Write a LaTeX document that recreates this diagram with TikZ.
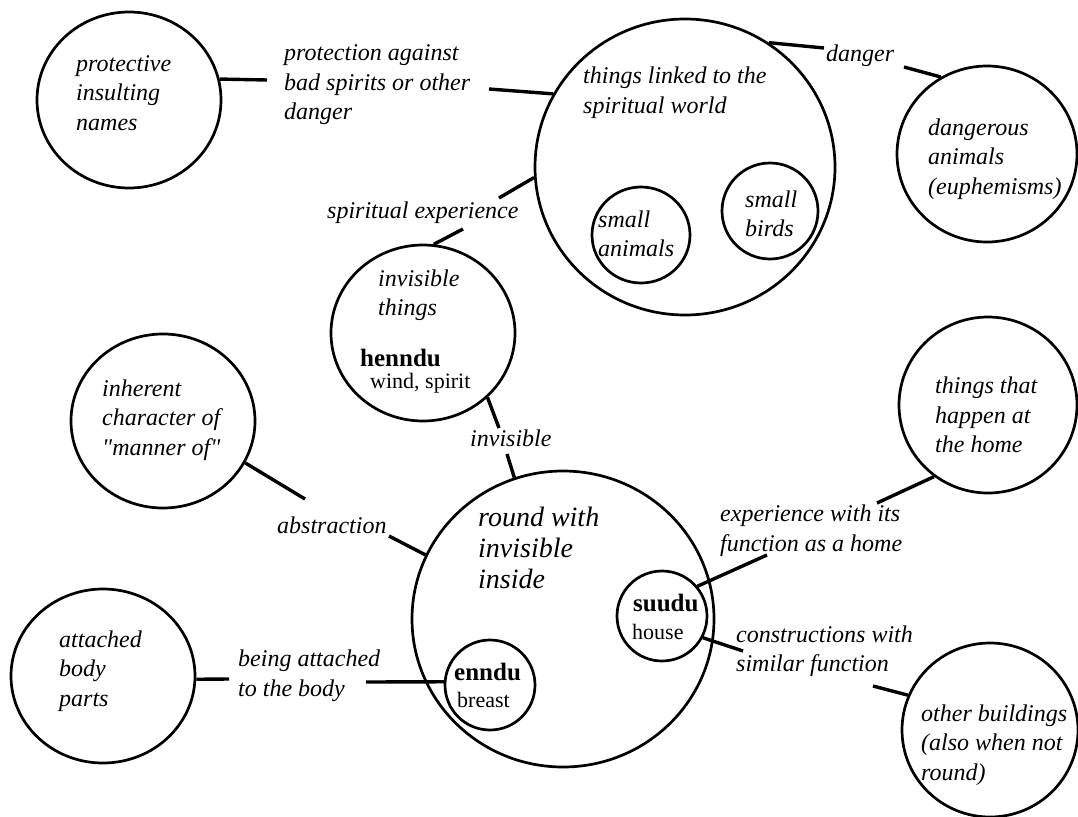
\documentclass[tikz,border=0pt]{standalone}
\usepackage{fontspec}
\setmainfont{Liberation Serif}[ItalicFont={Liberation Serif Italic},BoldFont={Liberation Serif Bold}]
% family without TeX ligature mapping, for straight double quotes
\newfontfamily\plainq{Liberation Serif}[ItalicFont={Liberation Serif Italic}]
\newcommand{\sq}{{\plainq\itshape "}}
\usetikzlibrary{shapes.geometric}
\begin{document}
\begin{tikzpicture}[x=1pt,y=-1pt,
  ring/.style={draw, ellipse, line width=2.7pt, inner sep=0pt},
  link/.style={line width=3.4pt},
  lbl/.style={anchor=west, inner sep=0pt, align=left,
    font=\fontsize{24}{29.5}\selectfont\itshape},
  bigl/.style={anchor=west, inner sep=0pt, align=left,
    font=\fontsize{28}{31}\selectfont\itshape},
  word/.style={anchor=west, inner sep=0pt, font=\fontsize{25}{30}\selectfont\bfseries},
  gloss/.style={anchor=west, inner sep=0pt, font=\fontsize{22}{26}\selectfont}
]
\useasboundingbox[fill=white] (0,0) rectangle (1078,816);

% circles
\node[ring, minimum width=184pt, minimum height=176pt] (prot)   at (129,100) {};
\node[ring, minimum width=300pt, minimum height=296pt] (spirit) at (685,167) {};
\node[ring, minimum width=98pt,  minimum height=96pt]  (sanim)  at (641,235) {};
\node[ring, minimum width=96pt,  minimum height=96pt]  (sbird)  at (770,211) {};
\node[ring, minimum width=180pt, minimum height=176pt] (dang)   at (987,154) {};
\node[ring, minimum width=184pt, minimum height=176pt] (henn)   at (423,333) {};
\node[ring, minimum width=184pt, minimum height=174pt] (inher)  at (163,421) {};
\node[ring, minimum width=302pt, minimum height=296pt] (round)  at (563,619) {};
\node[ring, minimum width=178pt, minimum height=176pt] (home)   at (988,405) {};
\node[ring, minimum width=184pt, minimum height=174pt] (attach) at (103,676) {};
\node[ring, minimum width=90pt,  minimum height=90pt]  (enndu)  at (490,685) {};
\node[ring, minimum width=90pt,  minimum height=90pt]  (suudu)  at (662,616) {};
\node[ring, minimum width=176pt, minimum height=174pt] (other)  at (990,730) {};

% texts inside circles
\node[lbl] (tprot)   at (76,93)    {protective\\insulting\\names};
\node[lbl] (tspirit) at (583,92.5) {things linked to the\\spiritual world};
\node[lbl] (tsanim)  at (598,234)  {small\\animals};
\node[lbl] (tsbird)  at (745,214)  {small\\birds};
\node[lbl] (tdang)   at (928,159)  {dangerous\\animals\\(euphemisms)};
\node[lbl] (thenn)   at (378,295)  {invisible\\things};
\node[word] (whenn)  at (360,358)  {henndu};
\node[gloss] (ghenn) at (370,383)  {wind, spirit};
\node[lbl] (tinher)  at (102,420)  {inherent\\character of\\\sq manner of\sq};
\node[bigl] (tround) at (478,548)  {round with\\invisible\\inside};
\node[lbl] (thome)   at (935,415)  {things that\\happen at\\the home};
\node[lbl] (tattach) at (59,671)   {attached\\body\\parts};
\node[word] (wenndu) at (454,672)  {enndu};
\node[gloss] (genndu) at (457,700) {breast};
\node[word] (wsuudu) at (633,603)  {suudu};
\node[gloss] (gsuudu) at (632,632) {house};
\node[lbl] (tother)  at (921,745)  {other buildings\\(also when not\\round)};

% connector labels
\node[lbl] (lprot)   at (284,85)   {protection against\\bad spirits or other\\danger};
\node[lbl] (lspexp)  at (327,213)  {spiritual experience};
\node[lbl] (ldanger) at (826,56)   {danger};
\node[lbl] (linvis)  at (470,438)  {invisible};
\node[lbl] (labstr)  at (277,525)  {abstraction};
\node[lbl] (lbody)   at (238,676)  {being attached\\to the body};
\node[lbl] (lexp)    at (720,530.5){experience with its\\function as a home};
\node[lbl] (lcons)   at (736,651)  {constructions with\\similar function};

% free ends of the connectors, next to their labels
\coordinate (p1) at (267,80);
\coordinate (p2) at (489,89);
\coordinate (s1) at (499,198);
\coordinate (s2) at (463,229);
\coordinate (d1) at (824,48);
\coordinate (d2) at (904,67);
\coordinate (i1) at (499,428);
\coordinate (i2) at (507,454);
\coordinate (a1) at (305,499);
\coordinate (a2) at (389,536);
\coordinate (b1) at (229,679);
\coordinate (b2) at (366,682);
\coordinate (e1) at (767,555);
\coordinate (e2) at (877,503);
\coordinate (c1) at (743,651);
\coordinate (c2) at (873,686);

% connectors
\draw[link] (prot.13)    -- (p1);
\draw[link] (p2)         -- (spirit.151);
\draw[link] (spirit.184) -- (s1);
\draw[link] (s2)         -- (henn.83);
\draw[link] (spirit.56)  -- (d1);
\draw[link] (d2)         -- (dang.121);
\draw[link] (henn.-45)   -- (i1);
\draw[link] (i2)         -- (round.109);
\draw[link] (inher.-27)  -- (a1);
\draw[link] (a2)         -- (round.155);
\draw[link] (attach.-2)  -- (b1);
\draw[link] (b2)         -- (enndu.176);
\draw[link] (suudu.40)   -- (e1);
\draw[link] (e2)         -- (home.233);
\draw[link] (suudu.-28)  -- (c1);
\draw[link] (c2)         -- (other.157);
\end{tikzpicture}
\end{document}
